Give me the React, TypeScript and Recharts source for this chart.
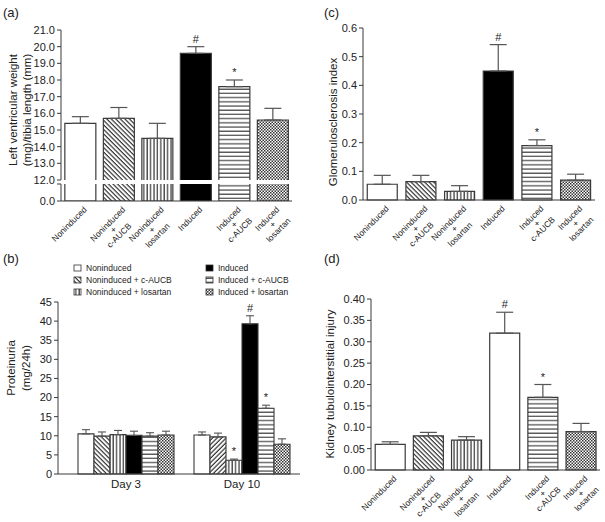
import React from 'react';
import { BarChart, Bar, XAxis, YAxis, ErrorBar, Cell, LabelList } from 'recharts';

const FONT = '"Liberation Sans", Arial, Helvetica, sans-serif';
const INK = '#222';
const EDGE = '#3a3a3a';

// groups shared by every panel
const groups = [
  'Noninduced',
  'Noninduced + c-AUCB',
  'Noninduced + losartan',
  'Induced',
  'Induced + c-AUCB',
  'Induced + losartan',
];
const groupTickLines = [
  ['Noninduced'],
  ['Noninduced', '+', 'c-AUCB'],
  ['Noninduced', '+', 'losartan'],
  ['Induced'],
  ['Induced', '+', 'c-AUCB'],
  ['Induced', '+', 'losartan'],
];

// (a) left ventricular weight / tibia length
const lvwMean = [15.4, 15.7, 14.5, 19.6, 17.6, 15.6];
const lvwErr = [0.4, 0.65, 0.9, 0.4, 0.4, 0.7];
const lvwMark = ['', '', '', '#', '*', ''];
const lvwTicksUpper = [12, 13, 14, 15, 16, 17, 18, 19, 20, 21];
const lvwTicksLower = [0, 1];

// (b) proteinuria
const days = ['Day 3', 'Day 10'];
const protDay3 = [10.5, 9.9, 10.3, 10.1, 9.9, 10.2];
const protDay3Err = [1.1, 1.1, 1.1, 1.1, 0.9, 1.0];
const protDay3Mark = ['', '', '', '', '', ''];
const protDay10 = [10.2, 9.7, 3.6, 39.3, 17.2, 7.8];
const protDay10Err = [0.8, 1.0, 0.3, 2.1, 0.8, 1.4];
const protDay10Mark = ['', '', '*', '#', '*', ''];
const protTicks = [0, 5, 10, 15, 20, 25, 30, 35, 40, 45];

// (c) glomerulosclerosis index
const gsiMean = [0.055, 0.064, 0.03, 0.45, 0.19, 0.069];
const gsiErr = [0.031, 0.022, 0.02, 0.092, 0.02, 0.021];
const gsiMark = ['', '', '', '#', '*', ''];
const gsiTicks = [0, 0.1, 0.2, 0.3, 0.4, 0.5, 0.6];

// (d) kidney tubulointerstitial injury
const tiiMean = [0.06, 0.08, 0.07, 0.32, 0.17, 0.09];
const tiiErr = [0.006, 0.008, 0.008, 0.049, 0.03, 0.019];
const tiiMark = ['', '', '', '#', '*', ''];
const tiiTicks = [0, 0.05, 0.1, 0.15, 0.2, 0.25, 0.3, 0.35, 0.4];

const fills = ['#fff', 'url(#pDiag)', 'url(#pVert)', '#000', 'url(#pHorz)', 'url(#pCheck)'];
const fillsD = ['#fff', 'url(#pDiag)', 'url(#pVert)', '#fff', 'url(#pHorz)', 'url(#pCheck)'];
// day 10 c-AUCB hatch leans the other way in (b)
const fillsDay10 = ['#fff', 'url(#pDiag2)', 'url(#pVert)', '#000', 'url(#pHorz)', 'url(#pCheck)'];

const toRows = (mean: number[], err: number[], mark: string[]) =>
  groups.map((g, i) => ({ name: g, mean: mean[i], err: [0, err[i]], mark: mark[i] }));

const lvwRows = toRows(lvwMean, lvwErr, lvwMark);
const gsiRows = toRows(gsiMean, gsiErr, gsiMark);
const tiiRows = toRows(tiiMean, tiiErr, tiiMark);

const protRows = days.map((d, di) => {
  const row: any = { day: d };
  const m = di === 0 ? protDay3 : protDay10;
  const e = di === 0 ? protDay3Err : protDay10Err;
  const k = di === 0 ? protDay3Mark : protDay10Mark;
  groups.forEach((_, s) => {
    row[`s${s}`] = m[s];
    row[`e${s}`] = [0, e[s]];
    row[`m${s}`] = k[s];
  });
  return row;
});

let ctx: CanvasRenderingContext2D | null = null;
function textWidth(s: string, size: number) {
  if (!ctx) ctx = document.createElement('canvas').getContext('2d');
  if (!ctx) return s.length * size * 0.55;
  ctx.font = `${size}px ${FONT}`;
  return ctx.measureText(s).width;
}

const GroupTick = (props: any) => {
  const { x, y, payload } = props;
  const idx = groups.indexOf(payload.value);
  const lines = groupTickLines[idx] || [String(payload.value)];
  const fs = 8.5;
  const w = textWidth(lines[0], fs);
  return (
    <g transform={`translate(${x + 5},${y - 1}) rotate(-45)`}>
      {lines.map((ln, i) => (
        <text key={i} x={-w / 2} y={i * 8} dy="0.35em" textAnchor="middle" fontSize={fs} fill={INK} fontFamily={FONT}>
          {ln}
        </text>
      ))}
    </g>
  );
};

// upper half of the broken axis: no edge along the break
const OpenBottomBar = (props: any) => {
  const { x, y, width, height, fill } = props;
  if (!height || height <= 0) return null;
  return (
    <g>
      <rect x={x} y={y} width={width} height={height} fill={fill} />
      <path
        d={`M${x},${y + height} V${y} H${x + width} V${y + height}`}
        fill="none"
        stroke={EDGE}
        strokeWidth={1.2}
      />
    </g>
  );
};

// label (# / *) above the error bar, using the bar's own pixel geometry
const makeMark = (means: number[], errs: number[], base: number) => (props: any) => {
  const vb = props.viewBox || props;
  const { x, y, width, height } = vb;
  const i = props.index;
  const v = props.value;
  if (!v || i == null) return null;
  const ppu = height / (means[i] - base);
  const top = y - errs[i] * ppu;
  return (
    <text x={x + width / 2} y={top - 4} textAnchor="middle" fontSize={11} fill={INK} fontFamily={FONT}>
      {v}
    </text>
  );
};

const yTick = { fontSize: 11, fill: INK, fontFamily: FONT };

function Patterns() {
  return (
    <svg width={0} height={0} style={{ position: 'absolute' }}>
      <defs>
        <pattern id="pDiag" width={3.2} height={3.2} patternUnits="userSpaceOnUse" patternTransform="rotate(-45)">
          <rect width={3.2} height={3.2} fill="#fff" />
          <line x1={1} y1={0} x2={1} y2={3.2} stroke="#333" strokeWidth={1.2} />
        </pattern>
        <pattern id="pDiag2" width={3.2} height={3.2} patternUnits="userSpaceOnUse" patternTransform="rotate(45)">
          <rect width={3.2} height={3.2} fill="#fff" />
          <line x1={1} y1={0} x2={1} y2={3.2} stroke="#333" strokeWidth={1.2} />
        </pattern>
        <pattern id="pVert" width={3.4} height={4} patternUnits="userSpaceOnUse">
          <rect width={3.4} height={4} fill="#fff" />
          <line x1={1} y1={0} x2={1} y2={4} stroke="#333" strokeWidth={1.2} />
        </pattern>
        <pattern id="pHorz" width={4} height={4.2} patternUnits="userSpaceOnUse">
          <rect width={4} height={4.2} fill="#fff" />
          <line x1={0} y1={1} x2={4} y2={1} stroke="#333" strokeWidth={1.1} />
        </pattern>
        <pattern id="pCheck" width={3} height={3} patternUnits="userSpaceOnUse">
          <rect width={3} height={3} fill="#fff" />
          <rect x={0} y={0} width={1.5} height={1.5} fill="#333" />
          <rect x={1.5} y={1.5} width={1.5} height={1.5} fill="#333" />
        </pattern>
      </defs>
    </svg>
  );
}

function SinglePanel(props: {
  rows: any[];
  means: number[];
  errs: number[];
  cellFills: string[];
  width: number;
  height: number;
  top: number;
  right: number;
  yWidth: number;
  xHeight: number;
  domain: [number, number];
  ticks: number[];
  digits: number;
}) {
  const { rows, means, errs, cellFills } = props;
  return (
    <BarChart
      width={props.width}
      height={props.height}
      data={rows}
      margin={{ top: props.top, right: props.right, bottom: 0, left: 0 }}
      barCategoryGap="11%"
    >
      <XAxis dataKey="name" height={props.xHeight} interval={0} tickLine={false} tick={<GroupTick />} stroke={EDGE} />
      <YAxis
        width={props.yWidth}
        domain={props.domain}
        ticks={props.ticks}
        interval={0}
        tickFormatter={(v: number) => v.toFixed(props.digits)}
        tick={yTick}
        tickSize={4}
        stroke={EDGE}
      />
      <Bar dataKey="mean" isAnimationActive={false} stroke={EDGE} strokeWidth={1.2}>
        {rows.map((r, i) => (
          <Cell key={r.name} fill={cellFills[i]} />
        ))}
        <ErrorBar dataKey="err" width={8.5} stroke="#555" strokeWidth={1.2} direction="y" />
        <LabelList dataKey="mark" content={makeMark(means, errs, 0)} />
      </Bar>
    </BarChart>
  );
}

export default function App() {
  return (
    <div style={{ position: 'absolute', left: 0, top: 0, width: 605, height: 522, background: '#fff', fontFamily: FONT }}>
      <Patterns />

      {/* (a) upper segment 12–21 */}
      <div style={{ position: 'absolute', left: 0, top: 0 }}>
        <BarChart width={300} height={190} data={lvwRows} margin={{ top: 30, right: 8, bottom: 10, left: 0 }} barCategoryGap="10%">
          <XAxis dataKey="name" hide />
          <YAxis
            width={61}
            domain={[12, 21]}
            ticks={lvwTicksUpper}
            interval={0}
            allowDataOverflow
            tickFormatter={(v: number) => v.toFixed(1)}
            tick={yTick}
            tickSize={4}
            stroke={EDGE}
          />
          <Bar dataKey="mean" isAnimationActive={false} shape={OpenBottomBar}>
            {lvwRows.map((r, i) => (
              <Cell key={r.name} fill={fills[i]} />
            ))}
            <ErrorBar dataKey="err" width={8.5} stroke="#555" strokeWidth={1.2} direction="y" />
            <LabelList dataKey="mark" content={makeMark(lvwMean, lvwErr, 12)} />
          </Bar>
        </BarChart>
      </div>
      {/* (a) lower segment from 0 */}
      <div style={{ position: 'absolute', left: 0, top: 0 }}>
        <BarChart width={300} height={260} data={lvwRows} margin={{ top: 184, right: 8, bottom: 0, left: 0 }} barCategoryGap="10%">
          <XAxis dataKey="name" height={59} interval={0} tickLine={false} tick={<GroupTick />} stroke={EDGE} />
          <YAxis
            width={61}
            domain={[0, 1]}
            ticks={lvwTicksLower}
            interval={0}
            allowDataOverflow
            tickFormatter={(v: number) => (v === 0 ? '0.0' : '')}
            tick={yTick}
            tickSize={4}
            stroke={EDGE}
          />
          <Bar dataKey="mean" isAnimationActive={false} stroke={EDGE} strokeWidth={1.2}>
            {lvwRows.map((r, i) => (
              <Cell key={r.name} fill={fills[i]} />
            ))}
          </Bar>
        </BarChart>
      </div>

      {/* (c) */}
      <div style={{ position: 'absolute', left: 300, top: 0 }}>
        <SinglePanel
          rows={gsiRows}
          means={gsiMean}
          errs={gsiErr}
          cellFills={fills}
          width={305}
          height={260}
          top={28}
          right={10}
          yWidth={63}
          xHeight={60}
          domain={[0, 0.6]}
          ticks={gsiTicks}
          digits={1}
        />
      </div>

      {/* (b) */}
      <div style={{ position: 'absolute', left: 0, top: 260 }}>
        <BarChart width={305} height={262} data={protRows} margin={{ top: 42, right: 5, bottom: 0, left: 0 }} barSize={16} barGap={0}>
          <XAxis
            dataKey="day"
            height={48}
            tickLine={false}
            tickMargin={0}
            padding={{ left: 10, right: 0 }}
            tick={{ fontSize: 11.5, fill: INK, fontFamily: FONT }}
            stroke={EDGE}
          />
          <YAxis width={58} domain={[0, 45]} ticks={protTicks} interval={0} tick={yTick} tickSize={4} stroke={EDGE} />
          {groups.map((g, s) => (
            <Bar key={g} name={g} dataKey={`s${s}`} fill={fills[s]} isAnimationActive={false} stroke={EDGE} strokeWidth={1.1}>
              {days.map((d, di) => (
                <Cell key={d} fill={di === 0 ? fills[s] : fillsDay10[s]} />
              ))}
              <ErrorBar dataKey={`e${s}`} width={4} stroke="#555" strokeWidth={1.1} direction="y" />
              <LabelList
                dataKey={`m${s}`}
                content={makeMark([protDay3[s], protDay10[s]], [protDay3Err[s], protDay10Err[s]], 0)}
              />
            </Bar>
          ))}
        </BarChart>
      </div>

      {/* (d) */}
      <div style={{ position: 'absolute', left: 300, top: 260 }}>
        <SinglePanel
          rows={tiiRows}
          means={tiiMean}
          errs={tiiErr}
          cellFills={fillsD}
          width={305}
          height={262}
          top={39}
          right={5}
          yWidth={71}
          xHeight={52}
          domain={[0, 0.4]}
          ticks={tiiTicks}
          digits={2}
        />
      </div>

      {/* panel letters, axis titles, legend */}
      <svg width={605} height={522} style={{ position: 'absolute', left: 0, top: 0, pointerEvents: 'none' }}>
        <g fontFamily={FONT} fill={INK}>
          <text x={3} y={17} fontSize={13}>(a)</text>
          <text x={324} y={17} fontSize={13}>(c)</text>
          <text x={3} y={263} fontSize={13}>(b)</text>
          <text x={324} y={263} fontSize={13}>(d)</text>

          <g fontSize={11.5} textAnchor="middle">
            <text transform="translate(13,110) rotate(-90)" dy="0.35em">Left ventricular weight</text>
            <text transform="translate(27,110) rotate(-90)" dy="0.35em">(mg)/tibia length (mm)</text>
            <text transform="translate(11,368) rotate(-90)" dy="0.35em">Proteinuria</text>
            <text transform="translate(26,368) rotate(-90)" dy="0.35em">(mg/24h)</text>
            <text transform="translate(333,122) rotate(-90)" dy="0.35em">Glomerulosclerosis index</text>
            <text transform="translate(330,384) rotate(-90)" dy="0.35em">Kidney tubulointerstitial injury</text>
          </g>

          {groups.map((g, i) => {
            const col = i < 3 ? 0 : 1;
            const row = i % 3;
            const sx = col === 0 ? 74 : 206;
            const cy = 268 + row * 12;
            return (
              <g key={g}>
                <rect x={sx} y={cy - 3} width={7} height={6} fill={fills[i]} stroke="#333" strokeWidth={0.8} />
                <text x={sx + 12} y={cy} dy="0.35em" fontSize={8.5}>
                  {g}
                </text>
              </g>
            );
          })}
        </g>
      </svg>
    </div>
  );
}
